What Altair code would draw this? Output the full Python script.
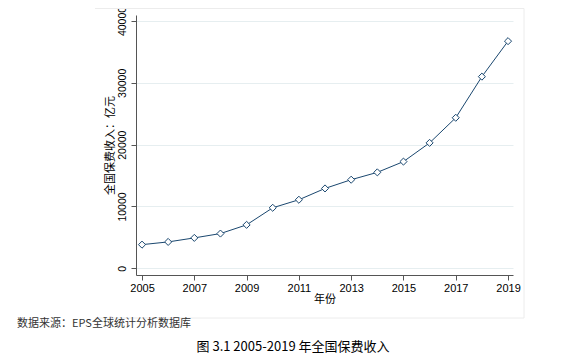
import altair as alt
import pandas as pd

years = list(range(2005, 2020))
premium = [3830, 4270, 4920, 5620, 7030, 9790, 11090, 12920, 14330, 15520,
           17260, 20290, 24350, 31000, 36740]
y_ticks = [0, 10000, 20000, 30000, 40000]
x_ticks = [2005, 2007, 2009, 2011, 2013, 2015, 2017, 2019]

df = pd.DataFrame({"year": years, "premium": premium})

LINE = "#1a476f"
FONT = "Liberation Sans"
CJK = "Noto Sans CJK SC"

x_enc = alt.X("year:Q",
              scale=alt.Scale(domain=[2004.77, 2019.19], nice=False, zero=False),
              axis=alt.Axis(values=x_ticks, format="d", title="年份", grid=False,
                            labelFont=FONT, labelFontSize=11, labelColor="black",
                            titleFont=CJK, titleFontSize=11, titleFontWeight="normal",
                            titleColor="black", titlePadding=0,
                            tickSize=5, labelPadding=2,
                            domainColor="#555555", tickColor="#555555"))
y_enc = alt.Y("premium:Q",
              scale=alt.Scale(domain=[-1080, 40970], nice=False, zero=False),
              axis=alt.Axis(values=y_ticks, format="d", title="全国保费收入：亿元", grid=True,
                            gridColor="#e6eef0", gridWidth=1,
                            labelAngle=270, labelAlign="center", labelBaseline="bottom",
                            labelFont=FONT, labelFontSize=10.5, labelColor="black",
                            labelPadding=4, tickSize=5,
                            titleFont=CJK, titleFontSize=11, titleFontWeight="normal",
                            titleColor="black", titlePadding=2,
                            domainColor="#555555", tickColor="#555555"))

line = alt.Chart(df).mark_line(color=LINE, strokeWidth=1).encode(x=x_enc, y=y_enc)
pts = alt.Chart(df).mark_point(shape="diamond", size=50, filled=True, fill="white",
                               stroke=LINE, strokeWidth=1, opacity=1).encode(x="year:Q", y="premium:Q")

frame = pd.DataFrame({"x": [0]})
top = alt.Chart(frame).mark_rule(color="#ececec", strokeWidth=1).encode(
    x=alt.value(-41), x2=alt.value(388), y=alt.value(-6.5))
right = alt.Chart(frame).mark_rule(color="#ececec", strokeWidth=1).encode(
    x=alt.value(388), y=alt.value(-6.5), y2=alt.value(303))
bottom = alt.Chart(frame).mark_rule(color="#ececec", strokeWidth=1).encode(
    x=alt.value(-41), x2=alt.value(388), y=alt.value(303))

source = alt.Chart(frame).mark_text(text="数据来源：EPS全球统计分析数据库", font=CJK, fontSize=11,
                                    align="left", baseline="middle", color="#333333").encode(
    x=alt.value(-119), y=alt.value(309))
caption = alt.Chart(frame).mark_text(text="图 3.1 2005-2019 年全国保费收入", font=CJK, fontSize=13,
                                     align="center", baseline="middle", color="black").encode(
    x=alt.value(157), y=alt.value(332))

chart = alt.layer(top, right, bottom, line, pts, source, caption).properties(
    width=377, height=260,
    autosize=alt.AutoSizeParams(type="none"),
    padding={"left": 128, "top": 7, "right": 48, "bottom": 84},
    background="white",
).configure_view(stroke=None)

chart.save("out.html", embed_options={"renderer": "svg", "actions": False})
